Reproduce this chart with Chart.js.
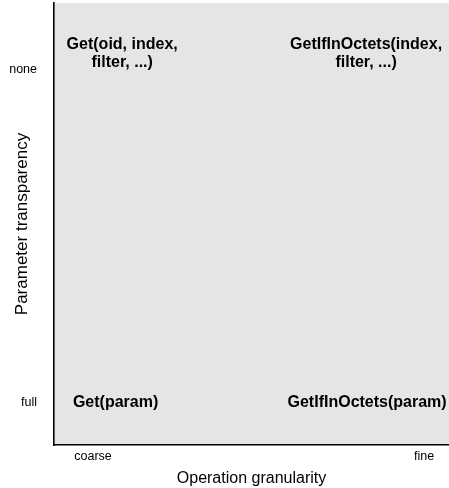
<!DOCTYPE html>
<html>
<head>
<meta charset="utf-8">
<script src="https://cdn.jsdelivr.net/npm/chart.js@4/dist/chart.umd.min.js"></script>
<style>
  html, body { margin: 0; padding: 0; background: #ffffff; }
  #wrap { width: 449px; height: 488px; position: relative; }
</style>
</head>
<body>
<div id="wrap"><canvas id="c"></canvas></div>
<script>
// ---- data ----
const xTickValues = [0, 1];
const xTickLabels = ['coarse', 'fine'];
const yTickValues = [0, 1];
const yTickLabels = ['full', 'none'];
const xTitle = 'Operation granularity';
const yTitle = 'Parameter transparency';

const cellLabels = [
  ['Get(oid, index,', 'filter, ...)'],
  ['GetIfInOctets(index,', 'filter, ...)'],
  ['Get(param)'],
  ['GetIfInOctets(param)']
];
const cellX = [0.088, 0.825, 0.068, 0.828];
const cellY = [1.045, 1.045, 0.0, 0.0];

const FONT = "'Liberation Sans', Arial, Helvetica, sans-serif";

const bgPlugin = {
  id: 'bg',
  beforeDraw(chart) {
    const { ctx, chartArea: a } = chart;
    ctx.save();
    ctx.fillStyle = '#e5e5e5';
    ctx.fillRect(a.left, a.top, a.right - a.left, a.bottom - a.top);
    ctx.restore();
  }
};

const labelPlugin = {
  id: 'cellLabels',
  afterDatasetsDraw(chart) {
    const { ctx } = chart;
    const meta = chart.getDatasetMeta(0);
    ctx.save();
    ctx.fillStyle = '#000';
    ctx.font = 'bold 16px ' + FONT;
    ctx.textAlign = 'center';
    ctx.textBaseline = 'middle';
    const lh = 18;
    meta.data.forEach((pt, i) => {
      const lines = cellLabels[i];
      const start = pt.y - (lines.length - 1) * lh / 2;
      lines.forEach((t, j) => ctx.fillText(t, pt.x, start + j * lh));
    });
    ctx.restore();
  }
};

new Chart(document.getElementById('c'), {
  type: 'scatter',
  data: {
    datasets: [{
      data: cellX.map((x, i) => ({ x: x, y: cellY[i] })),
      pointRadius: 0,
      pointHoverRadius: 0,
      showLine: false
    }]
  },
  options: {
    responsive: true,
    maintainAspectRatio: false,
    animation: false,
    events: [],
    layout: { padding: { top: 3, right: 0, left: 0, bottom: 0 } },
    plugins: { legend: { display: false }, tooltip: { enabled: false } },
    scales: {
      x: {
        type: 'linear',
        min: -0.118,
        max: 1.0755,
        afterBuildTicks: (axis) => { axis.ticks = xTickValues.map(v => ({ value: v })); },
        afterFit: (axis) => { axis.height = 43; axis.paddingLeft = 0; axis.paddingRight = 0; },
        ticks: {
          autoSkip: false,
          maxRotation: 0,
          minRotation: 0,
          padding: 4,
          color: '#000',
          font: { family: FONT, size: 12.5 },
          callback: (v, i) => xTickLabels[i]
        },
        grid: { display: true, color: 'rgba(0,0,0,0)', drawTicks: false },
        border: { display: true, color: '#000', width: 1.6 },
        title: {
          display: true,
          text: xTitle,
          color: '#000',
          font: { family: FONT, size: 16 },
          padding: { top: 3, bottom: 0 }
        }
      },
      y: {
        type: 'linear',
        min: -0.126,
        max: 1.198,
        afterBuildTicks: (axis) => { axis.ticks = yTickValues.map(v => ({ value: v })); },
        afterFit: (axis) => { axis.width = 54; axis.paddingTop = 0; axis.paddingBottom = 0; },
        ticks: {
          autoSkip: false,
          padding: 17,
          color: '#000',
          font: { family: FONT, size: 12.5 },
          callback: (v, i) => yTickLabels[i]
        },
        grid: { display: true, color: 'rgba(0,0,0,0)', drawTicks: false },
        border: { display: true, color: '#000', width: 1.6 },
        title: {
          display: true,
          text: yTitle,
          color: '#000',
          font: { family: FONT, size: 17 },
          padding: { top: 12, bottom: 0 }
        }
      }
    }
  },
  plugins: [bgPlugin, labelPlugin]
});
</script>
</body>
</html>
